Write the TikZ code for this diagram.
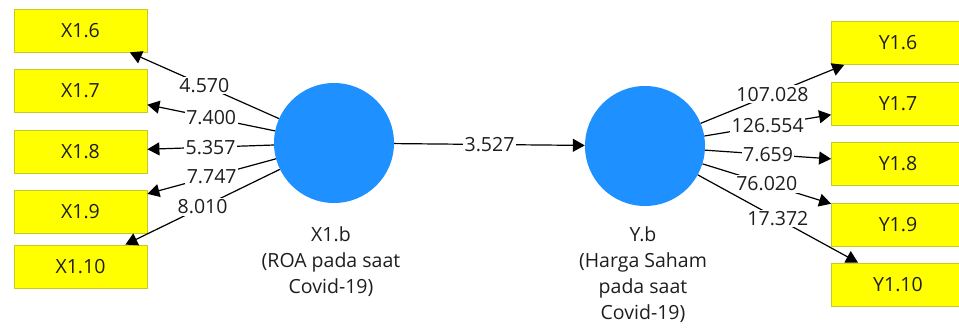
\documentclass[tikz,border=0pt]{standalone}
\usepackage{fontspec}
\setmainfont{Open Sans}
\usetikzlibrary{arrows.meta}
\definecolor{boxyellow}{RGB}{255,255,0}
\definecolor{boxedge}{RGB}{200,200,40}
\definecolor{latentblue}{RGB}{30,144,255}
\definecolor{txt}{RGB}{30,30,30}
\begin{document}
\begin{tikzpicture}[x=1pt,y=-1pt,
  every node/.style={font=\fontsize{19.5}{26}\selectfont, text=txt},
  indicator/.style={draw=boxedge, line width=0.8pt, fill=boxyellow,
    minimum width=133pt, minimum height=43pt, inner sep=0pt},
  latent/.style={circle, fill=latentblue, minimum size=120pt, inner sep=0pt},
  caption/.style={align=center, inner sep=0pt},
  link/.style={line width=1.2pt, -{Triangle[length=12pt,width=13pt]}},
  coef/.style={fill=white, inner sep=1.5pt, pos=0.5}]
\clip (0,0) rectangle (959,329);
\fill[white] (0,0) rectangle (959,329);

% left construct and its indicators
\node[latent] (lx) at (334,143) {};
\node[caption, anchor=north] (lxcap) at (331,226) {X1.b\\(ROA pada saat\\Covid-19)};
\node[indicator] (x16)  at (80.5,30.5)  {X1.6};
\node[indicator] (x17)  at (80.5,91)    {X1.7};
\node[indicator] (x18)  at (80.5,151.5) {X1.8};
\node[indicator] (x19)  at (80.5,212)   {X1.9};
\node[indicator] (x110) at (80.5,266.5) {X1.10};

% right construct and its indicators
\node[latent] (ly) at (645,146) {};
\node[caption, anchor=north] (lycap) at (643,226) {Y.b\\(Harga Saham\\pada saat\\Covid-19)};
\node[indicator] (y16)  at (898,43)    {Y1.6};
\node[indicator] (y17)  at (898,103.5) {Y1.7};
\node[indicator] (y18)  at (898,163.5) {Y1.8};
\node[indicator] (y19)  at (898,224.5) {Y1.9};
\node[indicator] (y110) at (898,284.5) {Y1.10};

% outer loadings
\draw[link] (lx) -- node[coef] (c1) {4.570} (x16);
\draw[link] (lx) -- node[coef] (c2) {7.400} (x17);
\draw[link] (lx) -- node[coef] (c3) {5.357} (x18);
\draw[link] (lx) -- node[coef] (c4) {7.747} (x19);
\draw[link] (lx) -- node[coef] (c5) {8.010} (x110);

\draw[link] (ly) -- node[coef] (d1) {107.028} (y16);
\draw[link] (ly) -- node[coef] (d2) {126.554} (y17);
\draw[link] (ly) -- node[coef] (d3) {7.659} (y18);
\draw[link] (ly) -- node[coef] (d4) {76.020} (y19);
\draw[link] (ly) -- node[coef] (d5) {17.372} (y110);

% structural path
\draw[link] (lx) -- node[coef] (p1) {3.527} (ly);
\end{tikzpicture}
\end{document}
